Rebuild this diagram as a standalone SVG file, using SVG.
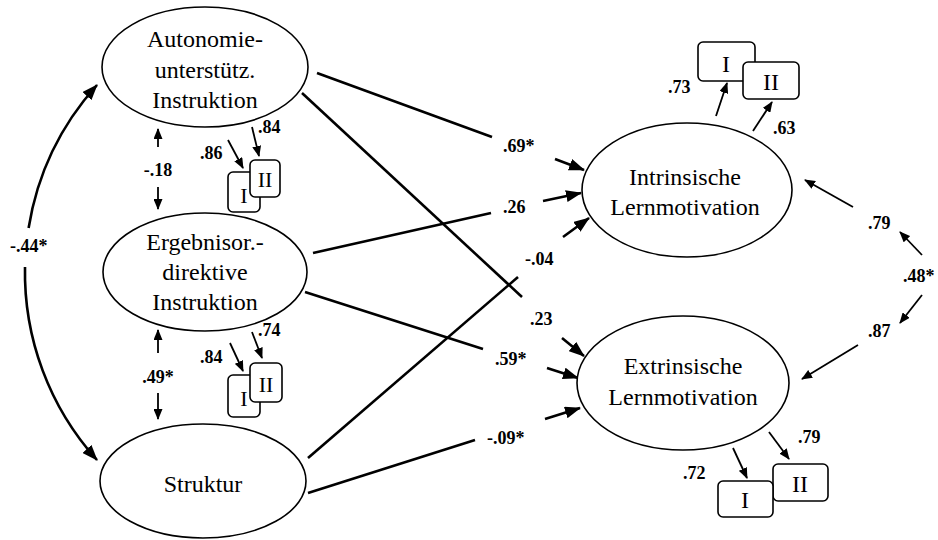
<svg xmlns="http://www.w3.org/2000/svg" width="938" height="540" viewBox="0 0 938 540" font-family="Liberation Serif, Times New Roman, serif">
<style>
.el{fill:#fff;stroke:#000;stroke-width:1.6}
.bx{fill:#fff;stroke:#000;stroke-width:1.6}
.t{font-size:24px;fill:#000;text-anchor:middle}
.bt{font-size:22px;fill:#000;text-anchor:middle}
.l{font-size:18px;font-weight:bold;fill:#000}
.ln{fill:none;stroke:#000;stroke-width:2.6}
.big{fill:none;stroke:#000;stroke-width:2.6;marker-end:url(#ah)}
.sm{fill:none;stroke:#000;stroke-width:1.8;marker-end:url(#as)}
</style>
<defs>
<marker id="ah" markerUnits="userSpaceOnUse" markerWidth="16" markerHeight="12" refX="15" refY="6" orient="auto-start-reverse"><path d="M0,0 L16,6 L0,12 z" fill="#000"/></marker>
<marker id="as" markerUnits="userSpaceOnUse" markerWidth="11" markerHeight="9" refX="10" refY="4.5" orient="auto-start-reverse"><path d="M0,0 L11,4.5 L0,9 z" fill="#000"/></marker>
</defs>
<rect width="938" height="540" fill="#fff"/>
<g id="connectors">
<path class="ln" d="M97,85 A280,280 0 0,0 28.6,228" marker-start="url(#ah)"/>
<path class="ln" d="M25,267 A280,280 0 0,0 97,460" marker-end="url(#ah)"/>
<line class="ln" x1="317" y1="73" x2="492" y2="137"/>
<line class="big" x1="555" y1="159" x2="584" y2="170"/>
<line class="ln" x1="313" y1="253" x2="491" y2="213"/>
<line class="big" x1="543" y1="201" x2="581" y2="193"/>
<line class="ln" x1="308" y1="458" x2="518" y2="277"/>
<line class="big" x1="563" y1="237" x2="589" y2="218"/>
<line class="ln" x1="302" y1="93" x2="522" y2="297"/>
<line class="big" x1="562" y1="338" x2="584" y2="356"/>
<line class="ln" x1="305" y1="292" x2="483" y2="349"/>
<line class="big" x1="547" y1="368" x2="578" y2="378"/>
<line class="ln" x1="308" y1="493" x2="475" y2="440"/>
<line class="big" x1="545" y1="419" x2="580" y2="408"/>
<line class="sm" x1="158" y1="147" x2="158" y2="129"/>
<line class="sm" x1="158" y1="187" x2="158" y2="209"/>
<line class="sm" x1="158" y1="353" x2="158" y2="330"/>
<line class="sm" x1="158" y1="393" x2="158" y2="419"/>
<line class="sm" x1="228" y1="140" x2="243" y2="168"/>
<line class="sm" x1="252" y1="127" x2="259" y2="156"/>
<line class="sm" x1="230" y1="343" x2="243" y2="371"/>
<line class="sm" x1="252" y1="332" x2="262" y2="358"/>
<line class="sm" x1="716" y1="116" x2="727" y2="83"/>
<line class="sm" x1="753" y1="131" x2="772" y2="102"/>
<line class="sm" x1="733" y1="448" x2="747" y2="478"/>
<line class="sm" x1="769" y1="432" x2="789" y2="459"/>
<line class="sm" x1="853" y1="207" x2="805" y2="180"/>
<line class="sm" x1="922" y1="255" x2="900" y2="232"/>
<line class="sm" x1="922" y1="295" x2="900" y2="323"/>
<line class="sm" x1="858" y1="345" x2="802" y2="379"/>
</g>
<g id="labels">
<text class="l" x="10" y="252">-.44*</text>
<text class="l" x="158" y="176" text-anchor="middle">-.18</text>
<text class="l" x="158" y="383" text-anchor="middle">.49*</text>
<text class="l" x="200" y="159">.86</text>
<text class="l" x="258" y="133">.84</text>
<text class="l" x="200" y="363">.84</text>
<text class="l" x="258" y="336">.74</text>
<text class="l" x="503" y="152">.69*</text>
<text class="l" x="503" y="213">.26</text>
<text class="l" x="525" y="265">-.04</text>
<text class="l" x="530" y="325">.23</text>
<text class="l" x="495" y="365">.59*</text>
<text class="l" x="487" y="444">-.09*</text>
<text class="l" x="668" y="93">.73</text>
<text class="l" x="773" y="134">.63</text>
<text class="l" x="683" y="479">.72</text>
<text class="l" x="798" y="443">.79</text>
<text class="l" x="868" y="229">.79</text>
<text class="l" x="903" y="282">.48*</text>
<text class="l" x="868" y="337">.87</text>
</g>
<g id="n-autonomie">
<ellipse class="el" cx="205" cy="67" rx="103" ry="60"/>
<text class="t" x="205" y="47">Autonomie-</text>
<text class="t" x="205" y="78">unterstütz.</text>
<text class="t" x="205" y="108">Instruktion</text>
</g>
<g id="n-ergebnis">
<ellipse class="el" cx="205" cy="272" rx="102" ry="59"/>
<text class="t" x="205" y="250">Ergebnisor.-</text>
<text class="t" x="205" y="280">direktive</text>
<text class="t" x="205" y="310">Instruktion</text>
</g>
<g id="n-struktur">
<ellipse class="el" cx="203" cy="481" rx="103" ry="57"/>
<text class="t" x="203" y="492">Struktur</text>
</g>
<g id="n-intrinsisch">
<ellipse class="el" cx="687" cy="190" rx="105" ry="67"/>
<text class="t" x="685" y="185">Intrinsische</text>
<text class="t" x="685" y="215">Lernmotivation</text>
</g>
<g id="n-extrinsisch">
<ellipse class="el" cx="683" cy="383" rx="106" ry="67"/>
<text class="t" x="683" y="374">Extrinsische</text>
<text class="t" x="683" y="405">Lernmotivation</text>
</g>
<g id="b-aut-1"><rect class="bx" x="228" y="172" width="32" height="40" rx="5"/><text class="bt" x="244" y="203">I</text></g>
<g id="b-aut-2"><rect class="bx" x="250" y="160" width="30" height="37" rx="5"/><text class="bt" x="265" y="187">II</text></g>
<g id="b-erg-1"><rect class="bx" x="228" y="375" width="32" height="42" rx="5"/><text class="bt" x="244" y="406">I</text></g>
<g id="b-erg-2"><rect class="bx" x="250" y="363" width="32" height="39" rx="5"/><text class="bt" x="266" y="392">II</text></g>
<g id="b-int-1"><rect class="bx" x="698" y="42" width="57" height="39" rx="5"/><text class="t" x="726" y="72">I</text></g>
<g id="b-int-2"><rect class="bx" x="743" y="62" width="56" height="37" rx="5"/><text class="t" x="771" y="90">II</text></g>
<g id="b-ext-2"><rect class="bx" x="773" y="464" width="55" height="37" rx="5"/><text class="t" x="800" y="492">II</text></g>
<g id="b-ext-1"><rect class="bx" x="718" y="481" width="55" height="36" rx="5"/><text class="t" x="745" y="508">I</text></g>
</svg>
